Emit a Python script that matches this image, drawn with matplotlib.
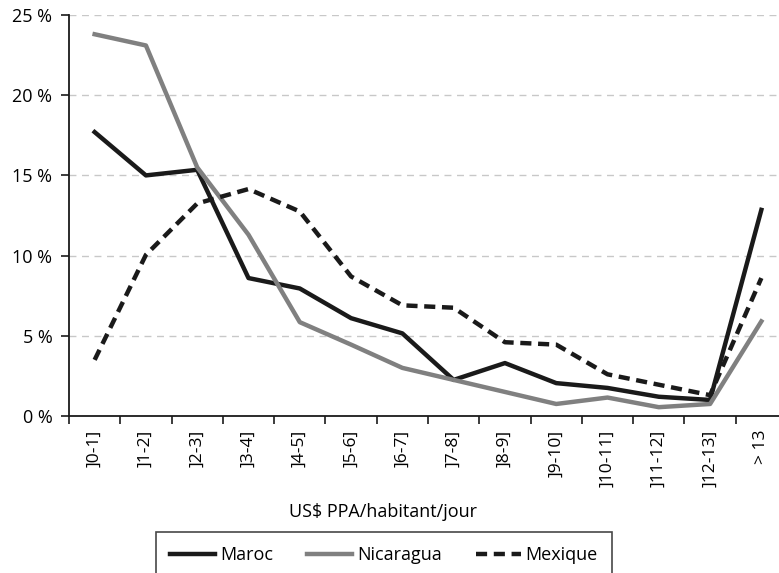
import matplotlib
matplotlib.use("Agg")
import matplotlib.pyplot as plt
from matplotlib.ticker import FuncFormatter

categories = [']0-1]', ']1-2]', ']2-3]', ']3-4]', ']4-5]', ']5-6]', ']6-7]',
              ']7-8]', ']8-9]', ']9-10]', ']10-11]', ']11-12]', ']12-13]', '> 13']
maroc = [17.7, 15.0, 15.35, 8.6, 7.95, 6.1, 5.15, 2.25, 3.3, 2.05, 1.75, 1.2, 1.0, 12.85]
nicaragua = [23.8, 23.1, 15.5, 11.3, 5.85, 4.45, 3.0, 2.25, 1.5, 0.75, 1.15, 0.55, 0.75, 5.9]
mexique = [3.5, 10.05, 13.25, 14.15, 12.75, 8.7, 6.9, 6.75, 4.6, 4.45, 2.6, 1.95, 1.3, 8.6]

plt.rcParams['font.family'] = ['Open Sans', 'DejaVu Sans']

fig = plt.figure(figsize=(7.79, 5.73), dpi=100)
ax = fig.add_axes([69 / 779, 157 / 573, 718 / 779, 401 / 573])

x = range(len(categories))
ax.plot(x, maroc, color='#1a1a1a', lw=3.2, label='Maroc')
ax.plot(x, nicaragua, color='#808080', lw=3.2, label='Nicaragua')
ax.plot(x, mexique, color='#1a1a1a', lw=3.2, ls=(0, (2.5, 1.5)), label='Mexique')

ax.set_xlim(-0.5, len(categories) - 0.5)
ax.set_ylim(0, 25)
ax.set_yticks([0, 5, 10, 15, 20, 25])
ax.yaxis.set_major_formatter(FuncFormatter(lambda v, p: f'{int(v)} %'))
ax.set_xticks([i - 0.5 for i in range(len(categories))])
ax.set_xticklabels([])
ax.set_xticks(list(x), minor=True)
ax.set_xticklabels(categories, minor=True, rotation=90, fontsize=12.5)
ax.tick_params(axis='x', which='minor', length=0, pad=10)
ax.tick_params(axis='x', which='major', length=6, width=1.2, color='#1a1a1a')
ax.tick_params(axis='y', length=6, width=1.2, color='#1a1a1a', labelsize=13, pad=6)

ax.grid(axis='y', color='#c8c8c8', ls=(0, (5, 4)), lw=1)
ax.set_axisbelow(True)
for s in ['top', 'right']:
    ax.spines[s].set_visible(False)
for s in ['left', 'bottom']:
    ax.spines[s].set_color('#1a1a1a')
    ax.spines[s].set_linewidth(1.3)

fig.text(383 / 779, 1 - 512 / 573, 'US$ PPA/habitant/jour', ha='center', va='center', fontsize=13)

leg = fig.legend(loc='upper center', bbox_to_anchor=(384 / 779, 1 - 532 / 573), ncol=3,
                 fontsize=13, frameon=True, fancybox=False, edgecolor='#1a1a1a',
                 handlelength=2.5, handletextpad=0.25, columnspacing=1.9, borderpad=0.8,
                 borderaxespad=0)
leg.get_frame().set_linewidth(1.2)

fig.savefig('out.png', dpi=100)
